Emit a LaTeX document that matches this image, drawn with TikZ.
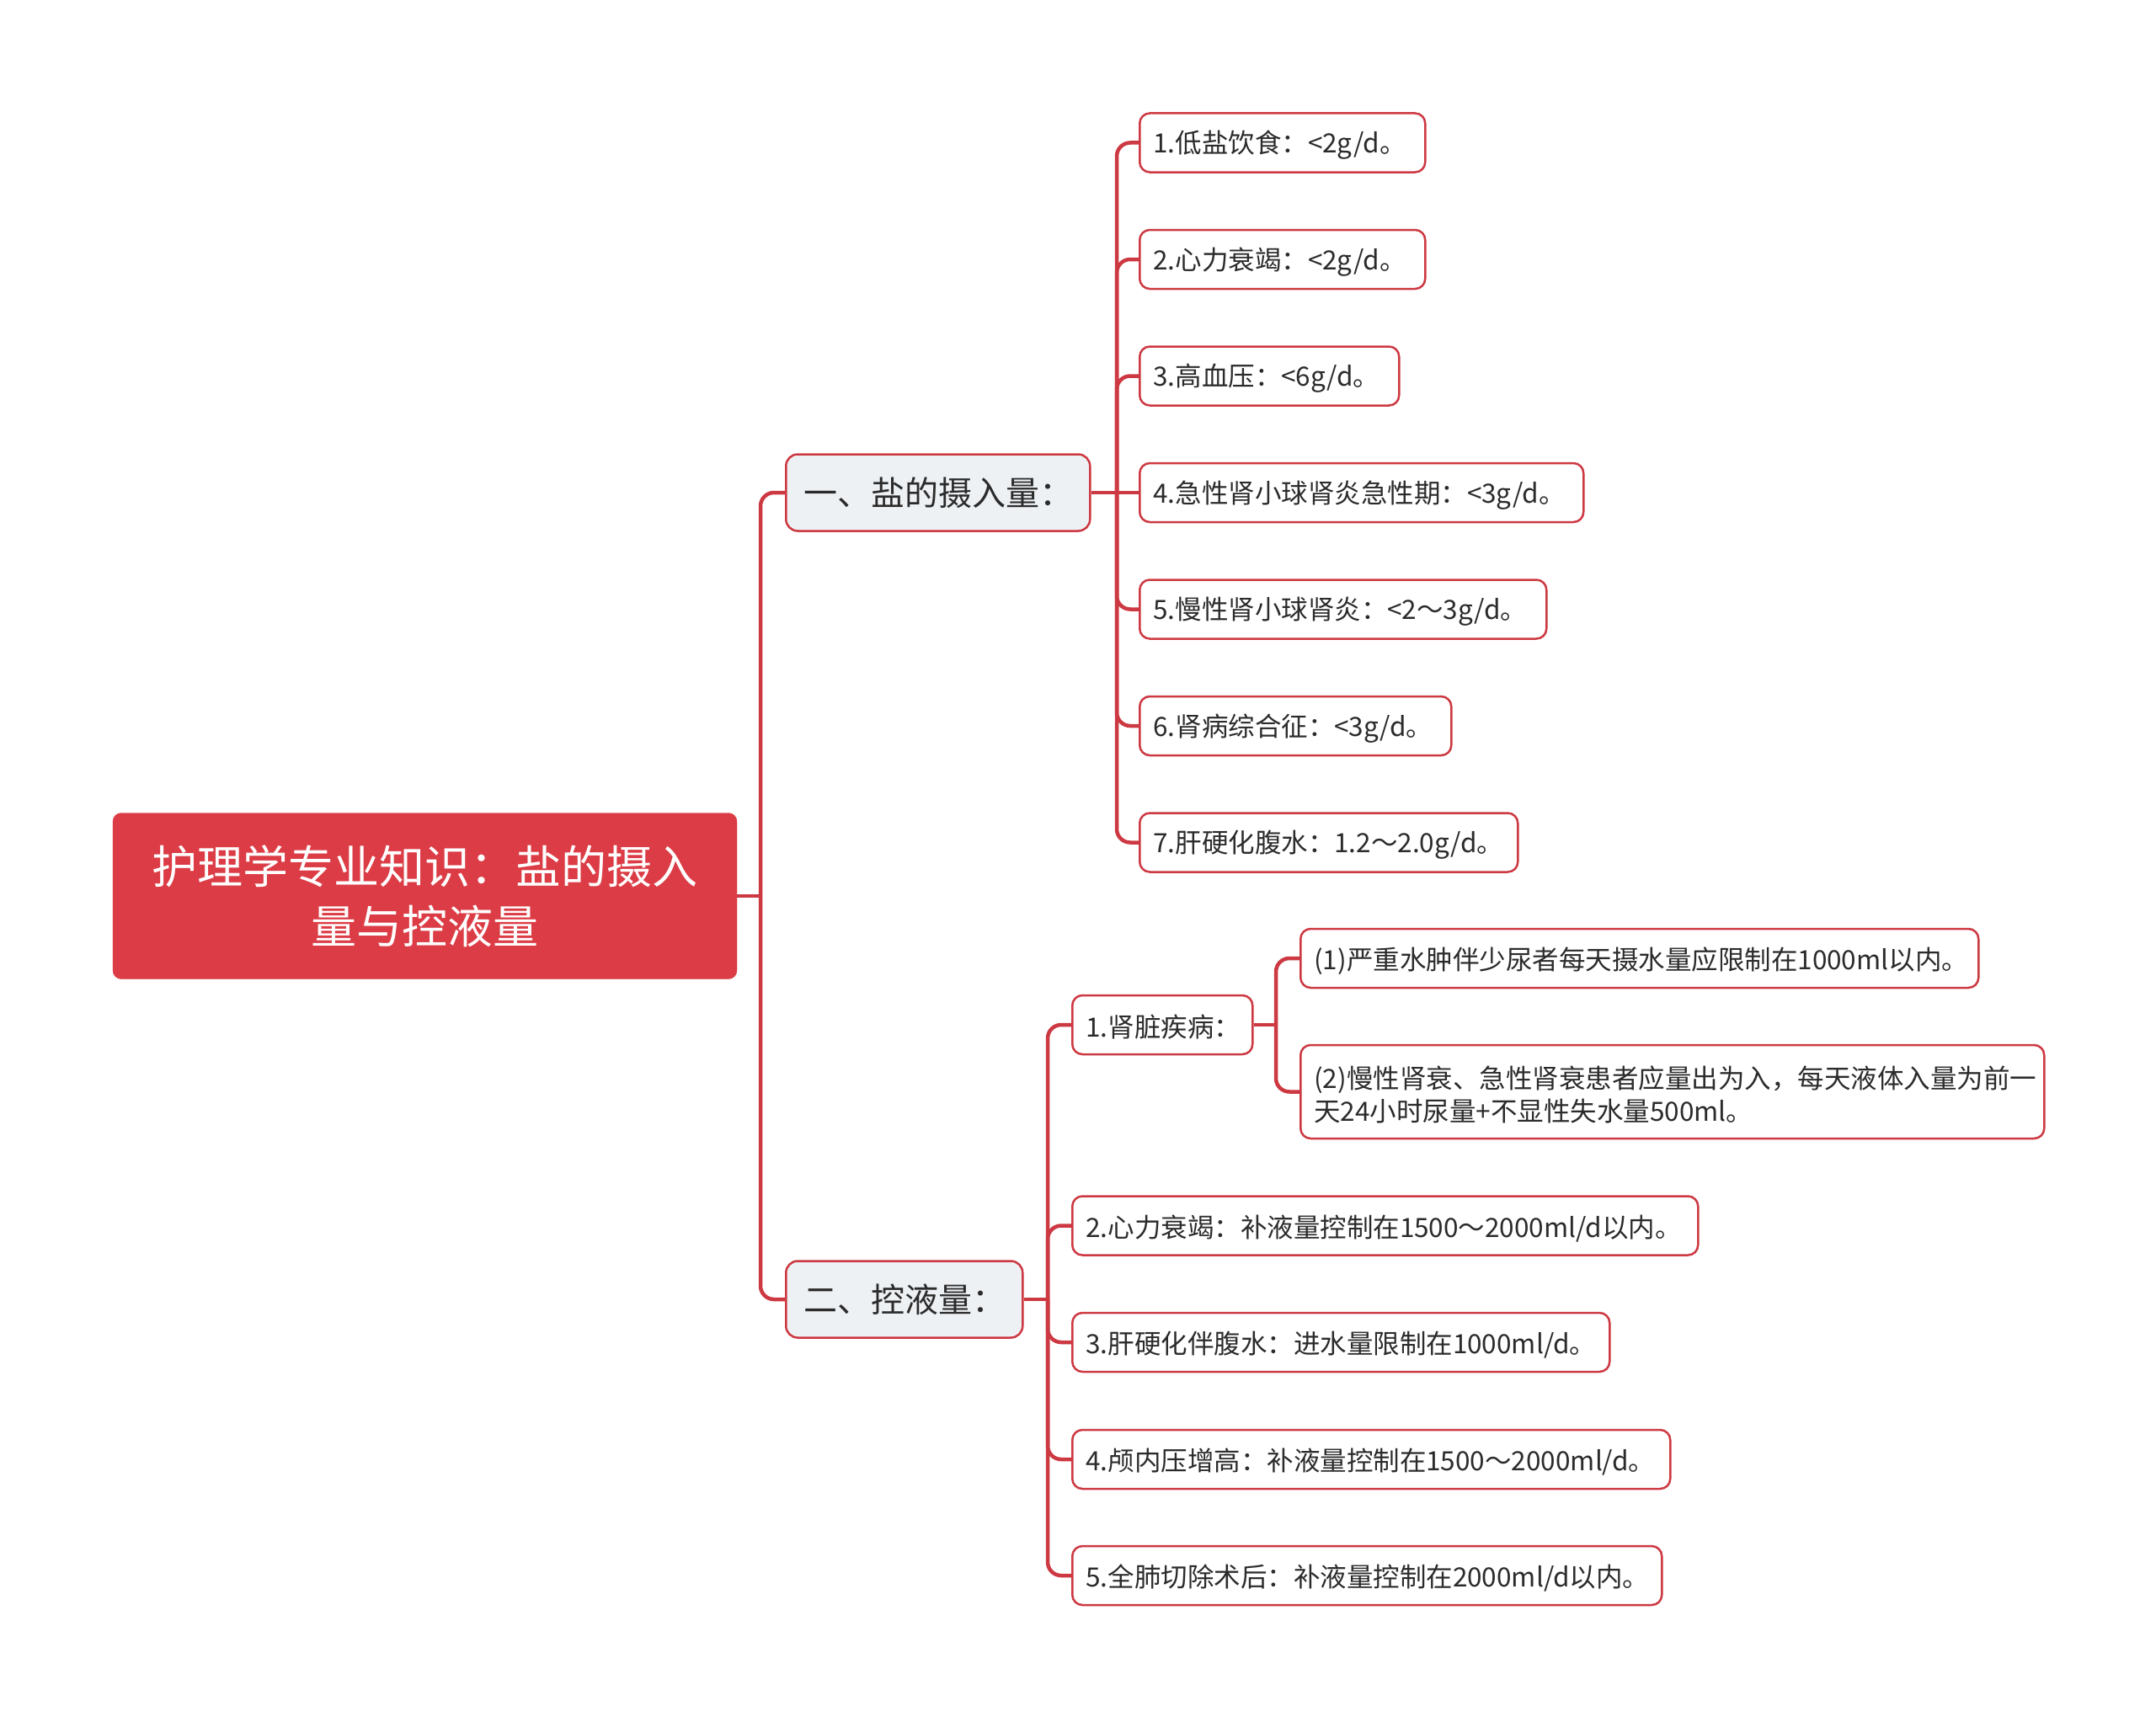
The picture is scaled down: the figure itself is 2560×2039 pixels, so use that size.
\documentclass[tikz,border=0pt]{standalone}
\usepackage{fontspec}
\setmainfont{Noto Sans CJK SC}
\definecolor{rootred}{HTML}{DC3C45}
\definecolor{linered}{HTML}{CD3942}
\definecolor{lvlfill}{HTML}{EEF1F4}
\definecolor{txt}{HTML}{2B2B2B}
\newcommand{\lbx}[2]{\makebox[#1][l]{\raisebox{-3pt}[\height][\depth]{#2}}}
\newcommand{\lowr}[1]{\raisebox{-3pt}[\height][\depth]{#1}}
\begin{document}
\begin{tikzpicture}[x=1pt,y=-1pt,
 rootbox/.style={fill=rootred, draw=rootred, rounded corners=10pt, minimum width=741pt, minimum height=197pt, align=center, text=white, font=\fontsize{54}{71}\selectfont, inner sep=0pt},
 lvlbox/.style={fill=lvlfill, draw=linered, line width=2.5pt, rounded corners=14pt, minimum height=91pt, inner xsep=21pt, inner ysep=0pt, text=txt, font=\fontsize{40}{48}\selectfont, anchor=west},
 leaf/.style={fill=white, draw=linered, line width=2.5pt, rounded corners=12pt, minimum height=70pt, inner xsep=16pt, inner ysep=0pt, text=txt, font=\fontsize{31.5}{39}\selectfont, anchor=west, align=left},
 conn/.style={draw=linered, line width=4.5pt, rounded corners=16pt},
 stub/.style={draw=linered, line width=4.5pt},
]
\fill[white] (0,0) rectangle (2560,2039);
\useasboundingbox (0,0) rectangle (2560,2039);

% root and level 1
\node[rootbox] (root) at (504.5,1064) {护理学专业知识：盐的摄入\\量与控液量};
\node[lvlbox] (y1) at (932,585) {\makebox[319pt][l]{一、盐的摄入量：}};
\node[lvlbox] (y2) at (932,1543) {\makebox[239pt][l]{二、控液量：}};

% salt children
\node[leaf] (s1) at (1352,169.5) {\lbx{307pt}{1.低盐饮食：<2g/d。}};
\node[leaf] (s2) at (1352,308) {\lbx{307pt}{2.心力衰竭：<2g/d。}};
\node[leaf] (s3) at (1352,446.5) {\lbx{276pt}{3.高血压：<6g/d。}};
\node[leaf] (s4) at (1352,585) {\lbx{495pt}{4.急性肾小球肾炎急性期：<3g/d。}};
\node[leaf] (s5) at (1352,723.5) {\lbx{451pt}{5.慢性肾小球肾炎：<2～3g/d。}};
\node[leaf] (s6) at (1352,862) {\lbx{338pt}{6.肾病综合征：<3g/d。}};
\node[leaf] (s7) at (1352,1000.5) {\lbx{417pt}{7.肝硬化腹水：1.2～2.0g/d。}};

% fluid children
\node[leaf] (k1) at (1272,1217) {\lbx{182pt}{1.肾脏疾病：}};
\node[leaf] (k2) at (1272,1455.5) {\lbx{711pt}{2.心力衰竭：补液量控制在1500～2000ml/d以内。}};
\node[leaf] (k3) at (1272,1594) {\lbx{606pt}{3.肝硬化伴腹水：进水量限制在1000ml/d。}};
\node[leaf] (k4) at (1272,1733) {\lbx{678pt}{4.颅内压增高：补液量控制在1500～2000ml/d。}};
\node[leaf] (k5) at (1272,1871) {\lbx{668pt}{5.全肺切除术后：补液量控制在2000ml/d以内。}};

% kidney grandchildren
\node[leaf] (g1) at (1543,1138) {\lbx{773pt}{(1)严重水肿伴少尿者每天摄水量应限制在1000ml以内。}};
\node[leaf, minimum height=111pt] (g2) at (1543,1296.5) {\lbx{851pt}{(2)慢性肾衰、急性肾衰患者应量出为入，每天液体入量为前一}\\\lowr{天24小时尿量+不显性失水量500ml。}};

% junction points
\coordinate (rb) at (903,1064);
\coordinate (sb) at (1326,585);
\coordinate (kb) at (1244,1543);
\coordinate (gb) at (1515,1217);

% connectors
\draw[stub] (root.east) -- (rb);
\draw[conn] (rb) |- (y1.west);
\draw[conn] (rb) |- (y2.west);

\draw[stub] (y1.east) -- (sb);
\foreach \n in {s1,s2,s3,s5,s6,s7} { \draw[conn] (sb) |- (\n.west); }
\draw[stub] (sb) -- (s4.west);

\draw[stub] (y2.east) -- (kb);
\foreach \n in {k1,k2,k3,k4,k5} { \draw[conn] (kb) |- (\n.west); }

\draw[stub] (k1.east) -- (gb);
\draw[conn] (gb) |- (g1.west);
\draw[conn] (gb) |- (g2.west);
\end{tikzpicture}
\end{document}
